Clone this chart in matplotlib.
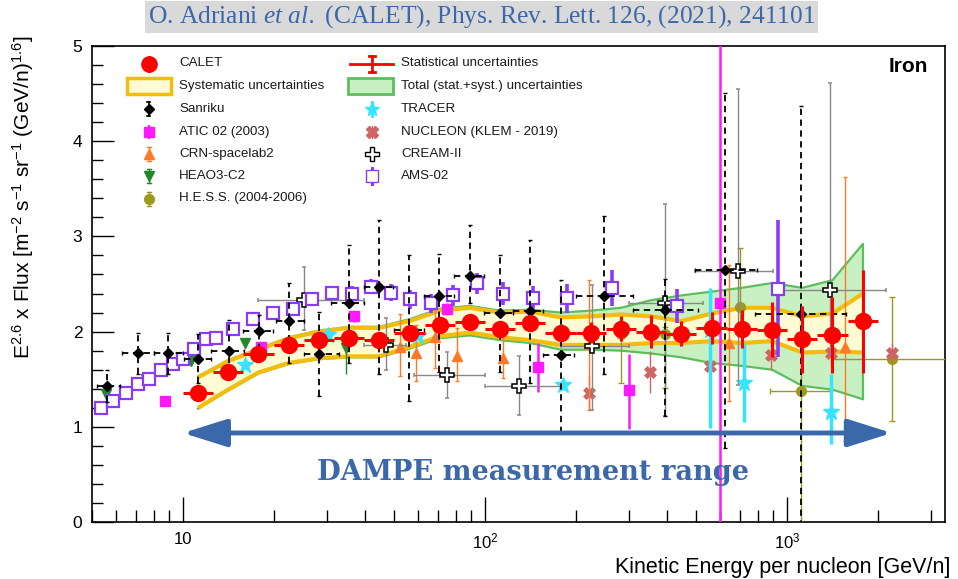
import numpy as np
import matplotlib
matplotlib.use("Agg")
import matplotlib.pyplot as plt
from matplotlib.lines import Line2D
from matplotlib.patches import Rectangle, FancyArrowPatch
from matplotlib.transforms import Affine2D
from matplotlib.ticker import FixedLocator, MultipleLocator, LogLocator, NullFormatter

plt.rcParams['font.family'] = ['Liberation Sans', 'DejaVu Sans']
plt.rcParams['mathtext.fontset'] = 'custom'
plt.rcParams['mathtext.it'] = 'Liberation Serif:italic'
plt.rcParams['mathtext.rm'] = 'Liberation Sans'
plt.rcParams['mathtext.default'] = 'regular'

# ---------------- CALET iron spectrum ----------------
calet_edges = np.array([10, 12.6, 15.8, 20, 25.1, 31.6, 39.8, 50.1, 63.1, 79.4, 100, 126, 158,
                        200, 251, 316, 398, 501, 631, 794, 1000, 1259, 1585, 2000])
calet_flux = np.array([1.35, 1.58, 1.76, 1.86, 1.91, 1.93, 1.91, 1.99, 2.07, 2.10, 2.03, 2.09,
                       1.99, 1.99, 2.03, 2.00, 1.98, 2.04, 2.03, 2.02, 1.92, 1.96, 2.11])
calet_stat = np.array([0.02, 0.02, 0.03, 0.03, 0.03, 0.04, 0.04, 0.05, 0.05, 0.06, 0.07, 0.08,
                       0.09, 0.11, 0.13, 0.17, 0.13, 0.17, 0.20, 0.29, 0.35, 0.40, 0.54])
syst_hi = np.array([1.52, 1.69, 1.81, 1.93, 2.00, 2.04, 2.04, 2.11, 2.22, 2.25, 2.20, 2.21,
                    2.15, 2.16, 2.18, 2.16, 2.11, 2.19, 2.25, 2.25, 2.16, 2.19, 2.40])
syst_lo = np.array([1.20, 1.39, 1.57, 1.67, 1.72, 1.74, 1.74, 1.84, 1.95, 1.99, 1.94, 1.91,
                    1.86, 1.86, 1.86, 1.88, 1.88, 1.90, 1.88, 1.90, 1.78, 1.79, 1.78])
total_hi = np.array([1.53, 1.70, 1.82, 1.94, 2.01, 2.05, 2.05, 2.13, 2.24, 2.27, 2.22, 2.23,
                     2.20, 2.22, 2.25, 2.33, 2.38, 2.42, 2.46, 2.51, 2.46, 2.54, 2.92])
total_lo = np.array([1.19, 1.38, 1.56, 1.66, 1.71, 1.73, 1.73, 1.82, 1.93, 1.96, 1.91, 1.88,
                     1.81, 1.81, 1.80, 1.77, 1.73, 1.67, 1.64, 1.60, 1.43, 1.39, 1.29])

# ---------------- other experiments ----------------
sanriku_e = np.array([5.6, 7.1, 8.9, 11.2, 14.2, 17.8, 22.4, 28.3, 35.5, 44.6, 56.2, 70.6,
                      89, 112, 141, 178, 248, 395, 624, 1109])
sanriku_f = np.array([1.43, 1.77, 1.77, 1.71, 1.80, 2.01, 2.11, 1.76, 2.30, 2.47, 2.02, 2.37,
                      2.58, 2.20, 2.22, 1.75, 2.37, 2.23, 2.65, 2.19])
sanriku_hi = np.array([1.60, 1.99, 1.99, 1.97, 2.12, 2.17, 2.51, 2.21, 2.91, 3.17, 2.80, 2.82,
                       3.12, 2.80, 2.96, 2.54, 3.21, 2.55, 4.51, 4.37])
sanriku_lo = np.array([1.26, 1.55, 1.55, 1.46, 1.55, 1.69, 1.67, 1.32, 1.67, 1.55, 1.27, 1.58,
                       2.30, 1.58, 1.46, 0.93, 1.55, 1.11, 0.78, -0.50])
sanriku_elo = np.array([5.2, 6.3, 8.0, 10.1, 12.4, 15.8, 20.3, 25.2, 30.8, 39.6, 50, 63,
                        79, 99, 124, 156, 200, 309, 495, 785])
sanriku_ehi = np.array([6.2, 8.0, 10.0, 12.4, 15.9, 19.8, 25.2, 32.9, 39.6, 49.5, 62.6, 79,
                        99, 124, 156, 197, 310, 505, 794, 1570])

atic_e = np.array([8.7, 18.1, 36.7, 75, 150, 299, 600])
atic_f = np.array([1.27, 1.84, 2.16, 2.24, 1.63, 1.39, 2.30])
atic_hi = np.array([1.29, 1.87, 2.22, 2.30, 1.88, 1.76, 6.00])
atic_lo = np.array([1.25, 1.81, 2.10, 2.18, 1.37, 0.98, -1.00])

crn_e = np.array([52.3, 59.3, 68.2, 80.9, 115, 220, 644, 1556])
crn_f = np.array([1.84, 1.78, 1.94, 1.74, 1.72, 1.87, 1.88, 1.84])
crn_hi = np.array([2.19, 2.07, 2.28, 2.04, 1.98, 2.54, 2.70, 3.62])
crn_lo = np.array([1.53, 1.48, 1.62, 1.48, 1.51, 1.18, 1.27, 0.85])

heao_e = np.array([5.56, 7.55, 10.6, 16.1, 34.6])
heao_f = np.array([1.34, 1.50, 1.69, 1.88, 1.83])
heao_hi = np.array([1.37, 1.53, 1.73, 1.93, 1.97])
heao_lo = np.array([1.31, 1.47, 1.65, 1.83, 1.55])

hess_e = np.array([281, 395, 700, 1109, 2218])
hess_f = np.array([1.98, 1.98, 2.26, 1.38, 1.71])
hess_hi = np.array([2.05, 2.05, 2.88, 1.95, 2.36])
hess_lo = np.array([1.46, 1.41, 1.95, -0.30, 1.06])
hess_elo = np.array([281, 395, 700, 880, 1400])
hess_ehi = np.array([281, 395, 700, 1390, 6000])

tracer_e = np.array([16.0, 30.2, 60, 181, 556, 720, 1393])
tracer_f = np.array([1.65, 1.96, 1.95, 1.44, 2.02, 1.46, 1.16])
tracer_hi = np.array([1.68, 1.99, 1.98, 1.49, 2.46, 1.88, 1.55])
tracer_lo = np.array([1.62, 1.93, 1.92, 1.39, 0.99, 1.05, 0.82])

nucleon_e = np.array([220, 352, 556, 885, 1393, 2218])
nucleon_f = np.array([1.36, 1.58, 1.64, 1.75, 1.77, 1.78])
nucleon_err = np.array([0.18, 0.22, 0.19, 0.15, 0.12, 0.10])

cream_e = np.array([25.2, 46.9, 74.6, 130, 226, 395, 690, 1387])
cream_f = np.array([2.33, 1.86, 1.54, 1.43, 1.85, 2.30, 2.64, 2.44])
cream_hi = np.array([2.68, 2.14, 1.79, 1.74, 2.49, 3.34, 4.55, 4.61])
cream_lo = np.array([2.02, 1.60, 1.30, 1.12, 1.18, 1.11, 1.44, 1.75])
cream_elo = np.array([17.7, 39.7, 58, 100, 178, 300, 496, 930])
cream_ehi = np.array([39.6, 54.6, 100, 178, 300, 525, 900, 2130])

ams_e = np.array([5.36, 5.86, 6.48, 7.08, 7.74, 8.46, 9.25, 9.98, 10.9, 11.9, 12.9, 14.6,
                  17.1, 19.9, 23.2, 26.8, 31.2, 36.3, 41.9, 48.7, 56.3, 66.0, 78.1, 94.0,
                  114.6, 144.5, 186.8, 264, 433, 929])
ams_f = np.array([1.20, 1.27, 1.35, 1.45, 1.50, 1.60, 1.66, 1.71, 1.82, 1.92, 1.93, 2.03,
                  2.13, 2.20, 2.24, 2.34, 2.41, 2.40, 2.47, 2.41, 2.34, 2.30, 2.38, 2.51,
                  2.40, 2.35, 2.35, 2.46, 2.27, 2.45])
ams_err = np.array([0.03, 0.03, 0.03, 0.03, 0.03, 0.03, 0.04, 0.04, 0.04, 0.05, 0.05, 0.05,
                    0.06, 0.06, 0.06, 0.07, 0.07, 0.08, 0.08, 0.09, 0.10, 0.10, 0.11, 0.11,
                    0.12, 0.13, 0.15, 0.19, 0.18, 0.72])

# ---------------- colours ----------------
C_CALET = '#ff0000'
C_SYST_FILL, C_SYST_EDGE = '#fffbd2', '#f3bd0e'
C_TOT_FILL, C_TOT_EDGE = '#c8f0c2', '#5cbf5c'
C_ATIC = '#ff19ff'
C_CRN = '#ff7a26'
C_HEAO = '#23882a'
C_HESS = '#9c9a1c'
C_TRACER = '#35e4ff'
C_NUCLEON = '#cf6464'
C_CREAM = '#888888'
C_AMS = '#8a3cf5'
C_BLUE = '#3b68aa'

W, H = 958, 579
fig = plt.figure(figsize=(W / 100, H / 100), dpi=100)
ax = fig.add_axes([92 / W, 1 - 522 / H, 853 / W, 476 / H])
ax.set_xscale('log')
ax.set_xlim(5, 3330)
ax.set_ylim(0, 5)

# pixel transform (origin top-left) for keys and labels around the frame
pix = Affine2D().scale(1 / W, -1 / H).translate(0, 1) + fig.transFigure


def asym(f, lo, hi):
    return [f - lo, hi - f]


# CALET uncertainty bands
calet_e = np.sqrt(calet_edges[:-1] * calet_edges[1:])
ax.fill_between(calet_e, total_lo, total_hi, color=C_TOT_FILL, lw=0, zorder=1)
ax.plot(calet_e, total_hi, color=C_TOT_EDGE, lw=1.6, zorder=1.1)
ax.plot(calet_e, total_lo, color=C_TOT_EDGE, lw=1.6, zorder=1.1)
ax.vlines(calet_e[-1], total_lo[-1], total_hi[-1], color=C_TOT_EDGE, lw=1.6, zorder=1.1)
ax.fill_between(calet_e, syst_lo, syst_hi, color=C_SYST_FILL, lw=0, zorder=1.2)
ax.plot(calet_e, syst_hi, color=C_SYST_EDGE, lw=3.0, zorder=1.3, solid_capstyle='butt')
ax.plot(calet_e, syst_lo, color=C_SYST_EDGE, lw=3.0, zorder=1.3, solid_capstyle='butt')

# other measurements
ax.errorbar(hess_e, hess_f, yerr=asym(hess_f, hess_lo, hess_hi),
            xerr=asym(hess_e, hess_elo, hess_ehi), fmt='o', color=C_HESS, ms=7,
            elinewidth=1.0, capsize=2, capthick=1.0, zorder=3)
ax.errorbar(nucleon_e, nucleon_f, yerr=nucleon_err, fmt='X', color=C_NUCLEON, ms=8,
            mew=0.5, elinewidth=1.0, zorder=3.2)
ax.errorbar(crn_e, crn_f, yerr=asym(crn_f, crn_lo, crn_hi), fmt='^', color=C_CRN, ms=7.5,
            elinewidth=1.0, capsize=1.5, capthick=1.0, zorder=3.4)
ax.errorbar(heao_e, heao_f, yerr=asym(heao_f, heao_lo, heao_hi), fmt='v', color=C_HEAO,
            ms=7.5, elinewidth=1.0, zorder=3.5)
ax.errorbar(tracer_e, tracer_f, yerr=asym(tracer_f, tracer_lo, tracer_hi), fmt='*',
            color=C_TRACER, ms=12, elinewidth=2.5, zorder=3.6)
ax.errorbar(atic_e, atic_f, yerr=asym(atic_f, atic_lo, atic_hi), fmt='s', color=C_ATIC,
            ms=6.5, elinewidth=1.8, zorder=3.7)
ax.errorbar(cream_e, cream_f, yerr=asym(cream_f, cream_lo, cream_hi),
            xerr=asym(cream_e, cream_elo, cream_ehi), fmt='P', mfc='white', mec='black',
            mew=1.1, ms=10, ecolor=C_CREAM, elinewidth=1.0, capsize=1.5, capthick=1.0,
            zorder=4)
ax.errorbar(ams_e, ams_f, yerr=ams_err, fmt='s', mfc='white', mec=C_AMS, mew=1.6, ms=8,
            ecolor=C_AMS, elinewidth=2.6, zorder=4.5)
san = ax.errorbar(sanriku_e, sanriku_f, yerr=asym(sanriku_f, sanriku_lo, sanriku_hi),
                  xerr=asym(sanriku_e, sanriku_elo, sanriku_ehi), fmt='D', color='black',
                  ms=5.5, elinewidth=1.3, capsize=1.5, capthick=1.0, zorder=5)
for lc in san[2]:
    lc.set_linestyle((0, (3.5, 2.5)))

# CALET points with statistical errors
ax.errorbar(calet_e, calet_flux, yerr=calet_stat,
            xerr=asym(calet_e, calet_edges[:-1], calet_edges[1:]), fmt='o', color=C_CALET,
            ms=11.5, elinewidth=2.2, capsize=0, zorder=10)

# DAMPE energy range arrow
arrow = FancyArrowPatch((10, 0.935), (2220, 0.935), arrowstyle='<|-|>,head_length=27,head_width=8.5',
                        mutation_scale=1, color=C_BLUE, lw=3.5, zorder=12, shrinkA=0, shrinkB=0)
ax.add_patch(arrow)
ax.text(0.517, 0.103, 'DAMPE measurement range', transform=ax.transAxes, ha='center',
        va='center', fontsize=19.6, fontweight='bold', family='DejaVu Serif', color=C_BLUE,
        zorder=13)

# axes styling
for sp in ax.spines.values():
    sp.set_linewidth(1.2)
ax.yaxis.set_major_locator(FixedLocator([0, 1, 2, 3, 4, 5]))
ax.yaxis.set_minor_locator(MultipleLocator(0.2))
ax.xaxis.set_major_locator(FixedLocator([10, 100, 1000]))
ax.set_xticklabels(['10', '10$^{2}$', '10$^{3}$'])
ax.xaxis.set_minor_locator(LogLocator(base=10, subs=np.arange(2, 10), numticks=20))
ax.xaxis.set_minor_formatter(NullFormatter())
ax.tick_params(which='both', direction='in', top=False, right=False, width=1.0,
               labelsize=12.5, colors='black')
ax.tick_params(axis='x', labelsize=12)
ax.tick_params(axis='y', which='major', length=16, pad=7)
ax.tick_params(axis='y', which='minor', length=8)
ax.tick_params(axis='x', which='major', length=18, pad=7)
ax.tick_params(axis='x', which='minor', length=9)

# axis titles
fig.text(23, 36, 'E$^{2.6}$ x Flux [m$^{-2}$ s$^{-1}$ sr$^{-1}$ (GeV/n)$^{1.6}$]',
         transform=pix, rotation=90, ha='center', va='top', fontsize=15)
fig.text(950, 567, 'Kinetic Energy per nucleon [GeV/n]', transform=pix, ha='right',
         va='center', fontsize=15.5)
fig.text(928, 67, 'Iron', transform=pix, ha='right', va='center', fontsize=15,
         fontweight='bold')

# reference line above the frame
fig.text(148, 17, 'O. Adriani $\\mathit{et\\ al.}$ (CALET), Phys. Rev. Lett. 126, (2021), 241101',
         transform=pix, ha='left', va='center', fontsize=18.4, family='Liberation Serif',
         color=C_BLUE, bbox=dict(facecolor='#d9d9d9', edgecolor='none', pad=1.8))

# ---------------- legend ----------------
LFS = 9.6


def key_point(x, y, color, marker, ms, mfc=None, mec=None, bar=8, lw=1.0, cap=0):
    fig.add_artist(Line2D([x, x], [y - bar, y + bar], color=color, lw=lw,
                          transform=pix, zorder=20))
    if cap:
        for yy in (y - bar, y + bar):
            fig.add_artist(Line2D([x - cap, x + cap], [yy, yy], color=color, lw=lw,
                                  transform=pix, zorder=20))
    fig.add_artist(Line2D([x], [y], marker=marker, ms=ms, ls='none',
                          mfc=mfc if mfc else color, mec=mec if mec else color,
                          transform=pix, zorder=21))


def key_text(x, y, s):
    fig.text(x, y, s, transform=pix, ha='left', va='center', fontsize=LFS, color='#1a1a1a',
             zorder=22)


rows = [63.5, 86, 109, 131.5, 154, 176, 198.5]
m1, t1, m2, t2 = 149, 179, 372, 401

key_point(m1, rows[0], C_CALET, 'o', 11, bar=7, lw=2)
key_text(t1, rows[0], 'CALET')
fig.add_artist(Rectangle((127, 78), 44, 16, transform=pix, facecolor=C_SYST_FILL,
                         edgecolor=C_SYST_EDGE, lw=2.5, zorder=20))
key_text(t1, rows[1], 'Systematic uncertainties')
key_point(m1, rows[2], 'black', 'D', 5.5, bar=7, lw=1.2, cap=1.5)
key_text(t1, rows[2], 'Sanriku')
key_point(m1, rows[3], C_ATIC, 's', 6.5, bar=6, lw=1.5)
key_text(t1, rows[3], 'ATIC 02 (2003)')
key_point(m1, rows[4], C_CRN, '^', 7.5, bar=7, lw=1.0, cap=2)
key_text(t1, rows[4], 'CRN-spacelab2')
key_point(m1, rows[5], C_HEAO, 'v', 7.5, bar=7, lw=1.0, cap=2)
key_text(t1, rows[5], 'HEAO3-C2')
key_point(m1, rows[6], C_HESS, 'o', 7, bar=7, lw=1.0, cap=2)
key_text(t1, rows[6], 'H.E.S.S. (2004-2006)')

fig.add_artist(Line2D([350, 393], [rows[0], rows[0]], color=C_CALET, lw=2, transform=pix,
                      zorder=20))
key_point(m2, rows[0], C_CALET, 'none', 1, bar=8, lw=2, cap=3)
key_text(t2, rows[0], 'Statistical uncertainties')
fig.add_artist(Rectangle((348, 78), 45, 16, transform=pix, facecolor=C_TOT_FILL,
                         edgecolor=C_TOT_EDGE, lw=2, zorder=20))
key_text(t2, rows[1], 'Total (stat.+syst.) uncertainties')
key_point(m2, rows[2], C_TRACER, '*', 11, bar=7, lw=2)
key_text(t2, rows[2], 'TRACER')
key_point(m2, rows[3], C_NUCLEON, 'X', 8, bar=6, lw=1.0)
key_text(t2, rows[3], 'NUCLEON (KLEM - 2019)')
key_point(m2, rows[4], 'black', 'P', 10, mfc='white', mec='black', bar=0, lw=1.0)
key_text(t2, rows[4], 'CREAM-II')
key_point(m2, rows[5], C_AMS, 's', 8, mfc='white', mec=C_AMS, bar=8, lw=2.2)
key_text(t2, rows[5], 'AMS-02')

fig.savefig('out.png', dpi=100)
